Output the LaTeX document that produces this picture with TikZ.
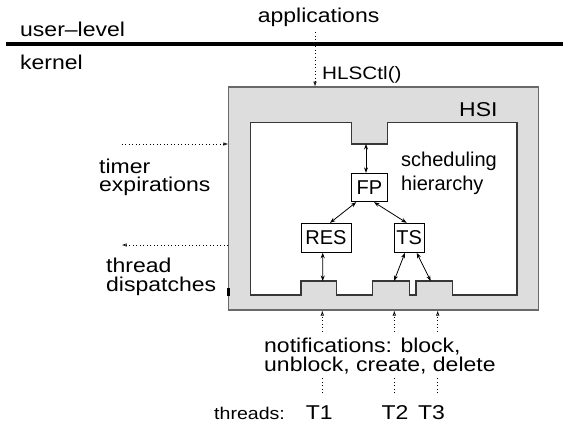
\documentclass[tikz,border=0pt]{standalone}
\usepackage{fontspec}
\setmainfont{Liberation Sans}
\newfontfamily\labw[FakeStretch=1.15]{Liberation Sans}
\newfontfamily\labn{Liberation Sans}
\usetikzlibrary{arrows.meta,calc}
\definecolor{hsigray}{RGB}{221,221,221}
\definecolor{outerline}{RGB}{105,105,105}
\definecolor{innerline}{RGB}{55,55,55}
\begin{document}
\begin{tikzpicture}[x=1bp,y=-1bp,
  wtxt/.style={inner sep=0pt,font=\labw\fontsize{20bp}{20bp}\selectfont},
  ntxt/.style={inner sep=0pt,font=\labn\fontsize{20bp}{20bp}\selectfont},
  stxt/.style={inner sep=0pt,font=\labw\fontsize{18bp}{18bp}\selectfont},
  thtxt/.style={inner sep=0pt,font=\labw\fontsize{17bp}{17bp}\selectfont},
  schedbox/.style={draw=black,line width=0.9bp,fill=white,inner sep=0pt,font=\labn\fontsize{20bp}{20bp}\selectfont},
  dotline/.style={line width=0.9bp,dash pattern=on 0.9bp off 2.6bp},
  dottip/.style={-{Latex[open,length=5bp,width=3.5bp,line width=0.7bp]}},
  dual/.style={line width=0.8bp,{Stealth[length=5.5bp,width=4bp]}-{Stealth[length=5.5bp,width=4bp]}}]
\useasboundingbox (0,0) rectangle (563,423);

% separator
\draw[line width=3.2bp] (6,44) -- (563,44);
\node[wtxt,anchor=base west] (user) at (20,36) {user–level};
\node[wtxt,anchor=base west] (kern) at (20,69.3) {kernel};
\node[wtxt,anchor=base] (apps) at (318.6,22.5) {applications};
\node[stxt,anchor=base west] (hls) at (322,79) {HLSCtl()};

% HSI frame
\draw[fill=hsigray,draw=outerline,line width=1.6bp] (228.3,86.7) rectangle (538.3,310);
\draw[fill=white,draw=innerline,line width=1.3bp]
  (250.5,122.5) -- (351.7,122.5) -- (351.7,144) -- (387.3,144) -- (387.3,122.5)
  -- (517,122.5) -- (517,295) -- (452.5,295) -- (452.5,281) -- (416,281)
  -- (416,295) -- (409.3,295) -- (409.3,281) -- (372.7,281) -- (372.7,295)
  -- (336.7,295) -- (336.7,281) -- (301,281) -- (301,295) -- (250.5,295) -- cycle;
\draw[line width=2.4bp] (228.3,288) -- (228.3,295.5);
\node[wtxt,anchor=base west] (hsi) at (459,116.7) {HSI};
\node[ntxt,anchor=base west] (sch1) at (401,166) {scheduling};
\node[ntxt,anchor=base west] (sch2) at (401,190) {hierarchy};

% scheduler boxes
\node[schedbox,minimum width=35.6bp,minimum height=28.4bp] (fp) at (369.5,187.5) {FP};
\node[schedbox,minimum width=50bp,minimum height=29bp] (res) at (326,237.8) {RES};
\node[schedbox,minimum width=30.3bp,minimum height=29bp] (ts) at (409.2,237.8) {TS};

\coordinate (notch) at (366,144);
\coordinate (b1) at (322.7,281);
\coordinate (b2) at (394,281);
\coordinate (b3) at (430.7,281);
\draw[dual] (notch) -- (notch |- fp.north);
\draw[dual] ([xshift=5bp]fp.south west) -- ([xshift=4bp]res.north);
\draw[dual] ([xshift=4.5bp]fp.south) -- ([xshift=-2.5bp]ts.north);
\draw[dual] ([xshift=-3.3bp]res.south) -- (b1);
\draw[dual] ([xshift=-4.2bp]ts.south) -- (b2);
\draw[dual] ([xshift=7.5bp]ts.south) -- (b3);

% HLSCtl arrow
\coordinate (hlsA) at (315,32);
\coordinate (hlsB) at (315,86.7);
\draw[dotline,dottip] (hlsA) -- (hlsB);

% timer / dispatch arrows
\coordinate (tmA) at (121.7,144);
\coordinate (tmB) at (228.3,144);
\draw[dotline,dottip] (tmA) -- (tmB);
\node[wtxt,anchor=base west] (tm1) at (99,173.3) {timer};
\node[wtxt,anchor=base west] (tm2) at (99,191.5) {expirations};
\coordinate (tdA) at (228.3,245);
\coordinate (tdB) at (121.7,245);
\draw[dotline,dottip] (tdA) -- (tdB);
\node[wtxt,anchor=base west] (td1) at (106,272.8) {thread};
\node[wtxt,anchor=base west] (td2) at (106,291.6) {dispatches};

% notifications
\node[wtxt,anchor=base west] (not1) at (264,352.7) {notifications: block,};
\node[wtxt,anchor=base west] (not2) at (264,371) {unblock, create, delete};

% threads
\node[thtxt,anchor=base west] (thr) at (214,419) {threads:};
\node[wtxt,anchor=base] (t1) at (319.2,419) {T1};
\node[wtxt,anchor=base] (t2) at (395,419) {T2};
\node[wtxt,anchor=base] (t3) at (431.5,419) {T3};

\foreach \n/\x in {1/322.3,2/394.3,3/437.7}{
  \coordinate (lo\n) at (\x,393.3);
  \coordinate (mlo\n) at (\x,376.7);
  \coordinate (mhi\n) at (\x,331.7);
  \coordinate (hi\n) at (\x,310.5);
  \draw[dotline] (lo\n) -- (mlo\n);
  \draw[dotline,dottip] (mhi\n) -- (hi\n);
}
\end{tikzpicture}
\end{document}
